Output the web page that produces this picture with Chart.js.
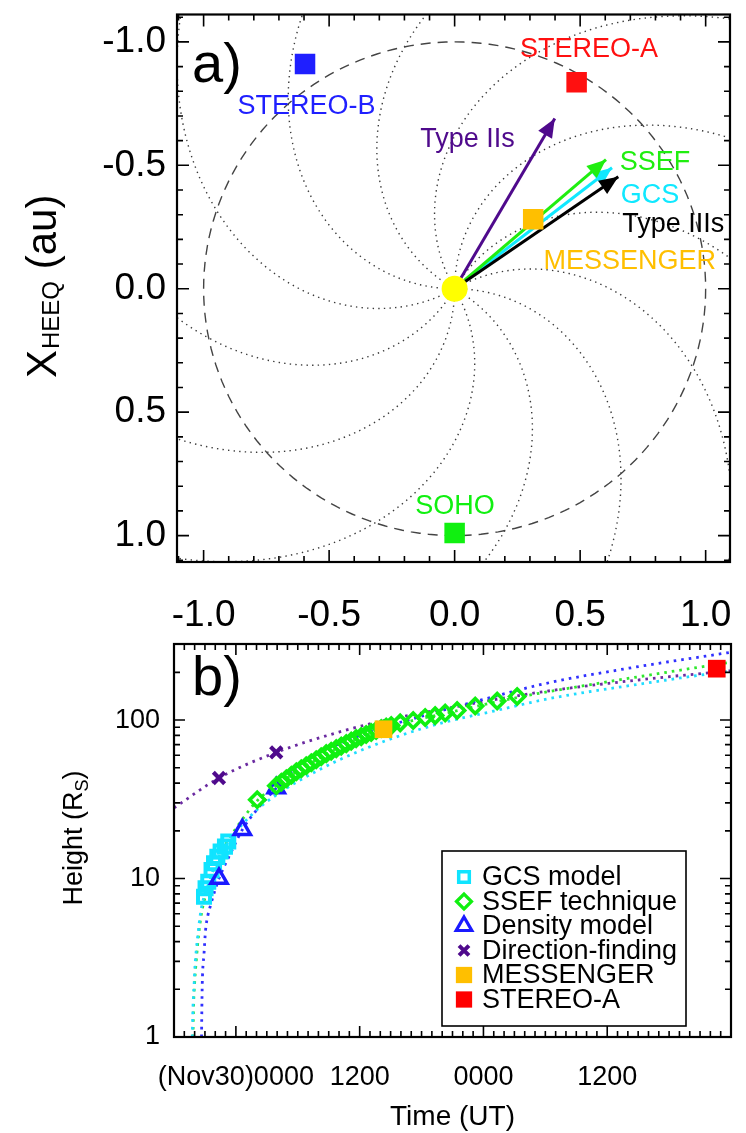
<!DOCTYPE html>
<html>
<head>
<meta charset="utf-8">
<script src="https://cdn.jsdelivr.net/npm/chart.js@4.4.1/dist/chart.umd.min.js"></script>
<style>
  html, body { margin: 0; padding: 0; background: #fff; }
  #wrap { position: relative; width: 746px; height: 1133px; overflow: hidden; background: #fff; }
  #panelA { position: absolute; left: 0; top: 0; }
  #panelB { position: absolute; left: 0; top: 630px; }
</style>
</head>
<body>
<div id="wrap">
  <canvas id="panelA" width="746" height="630"></canvas>
  <canvas id="panelB" width="746" height="503"></canvas>
</div>
<script>
// ---------- panel a : positions in the HEEQ plane (au) ----------
// horizontal = Y_HEEQ, vertical = X_HEEQ (1 au at the bottom)
const craftNames  = ['STEREO-B', 'STEREO-A', 'MESSENGER', 'SOHO'];
const craftY      = [-0.596, 0.486, 0.313, 0.000];
const craftX      = [-0.910, -0.837, -0.282, 0.990];
const craftColors = ['#1f1fff', '#ff1010', '#ffbf00', '#10f010'];

const arrowNames  = ['Type IIs', 'GCS', 'SSEF', 'Type IIIs'];
const arrowTipY   = [0.399, 0.627, 0.603, 0.652];
const arrowTipX   = [-0.690, -0.490, -0.523, -0.454];
const arrowColors = ['#4f0a8c', '#10e8ff', '#20ee10', '#000000'];

// Parker spirals, one every 30 deg, twist
const spiralStartAngles = [0, 30, 60, 90, 120, 150, 180, 210, 240, 270, 300, 330];
const spiralTwist = 48.5;   // deg per au
const orbitRadius = 1.0;    // au

const ticksA = [-1.0, -0.5, 0.0, 0.5, 1.0];

// ---------- panel b : height-time, hours from 2013 Nov 30 00:00 UT ----------
const gcsT  = [-3.09, -2.94, -2.68, -2.36, -2.12, -1.80, -1.48, -1.06, -0.74];
const gcsH  = [7.67, 8.67, 9.55, 11.3, 12.5, 13.7, 14.8, 15.9, 17.1];

const ssefT = [2.07, 3.92, 4.41, 4.89, 5.38, 5.86, 6.34, 6.82, 7.31, 7.79, 8.27, 8.76, 9.24, 9.73,
               10.21, 10.70, 11.18, 11.66, 12.15, 12.63, 13.12, 13.60, 14.09, 14.57, 15.06, 15.93,
               17.19, 18.35, 19.32, 20.29, 21.45, 23.20, 25.33, 27.27];
const ssefH = [31.4, 38.5, 40.5, 42.6, 44.9, 47.2, 49.3, 51.5, 53.8, 56.2, 58.7, 61.4, 63.6, 66.0,
               68.5, 71.0, 73.6, 76.4, 78.6, 81.0, 83.4, 85.9, 88.4, 90.3, 92.3, 96.0,
               99.3, 103.7, 106.7, 110.7, 114.8, 122.6, 131.9, 140.8];

const densT = [-1.64, 0.62, 3.91];
const densH = [10.0, 20.3, 37.2];

const dfT   = [-1.64, 3.91];
const dfH   = [43.1, 62.5];

const messT = [14.31];
const messH = [87.5];

const staT  = [46.62];
const staH  = [211];

// fitted curves
const gcsFitT  = [-4.23, -4.16, -4.06, -3.97, -3.84, -3.67, -3.48, -3.26, -3.0, -2.5, -2.0, -1.0, 0.5, 2.0, 4.0, 6.0, 10.0, 15.0, 20.0, 25.0, 30.5, 40.0, 48.0];
const gcsFitH  = [1.0, 1.54, 2.07, 2.77, 3.53, 4.5, 5.73, 6.97, 7.9, 9.9, 12.3, 16.0, 21.5, 27.0, 34.0, 41.0, 56.0, 76.0, 96.0, 114.0, 137.0, 172.0, 205.0];
const ssefFitT = [-4.16, -4.10, -4.00, -3.85, -3.60, -3.30, -2.90, -2.30, -1.20, 0.50, 2.07, 4.0, 8.0, 12.0, 16.0, 20.0, 27.3, 35.0, 48.0];
const ssefFitH = [1.0, 1.6, 2.2, 3.0, 4.5, 6.2, 8.0, 10.8, 15.5, 23.0, 31.0, 39.0, 57.0, 77.0, 95.0, 109.0, 139.0, 170.0, 232.0];
const densFitT = [-3.33, -3.30, -3.26, -3.09, -2.94, -2.71, -2.45, -2.12, -1.64, -0.50, 0.62, 2.0, 3.91, 6.1, 9.0, 13.2, 18.5, 24.0, 30.0, 38.0, 48.0];
const densFitH = [1.0, 1.5, 2.17, 3.36, 4.72, 5.88, 6.79, 8.07, 10.0, 14.5, 20.3, 27.0, 37.2, 52.0, 66.0, 85.0, 108.0, 135.0, 170.0, 212.0, 268.0];
const dfFitT   = [-6.0, -1.64, 3.91, 10.0, 14.0, 20.0, 29.5, 40.0, 48.0];
const dfFitH   = [27.9, 43.1, 62.5, 84.0, 98.0, 117.0, 150.0, 182.0, 205.0];

const timeTicks  = [0, 12, 24, 36];
const timeLabels = ['(Nov30)0000', '1200', '0000', '1200'];
const heightTicks = [1, 10, 100];

const FONT = "'Liberation Sans', Arial, Helvetica, sans-serif";
Chart.defaults.font.family = FONT;
Chart.defaults.color = '#000';

const zip = (xs, ys) => xs.map((v, i) => ({ x: v, y: ys[i] }));

// ---------------- panel a ----------------
function spiral(startDeg) {
  const pts = [];
  for (let r = 0; r <= 1.6; r += 0.01) {
    const th = (startDeg - spiralTwist * r) * Math.PI / 180;
    pts.push({ x: r * Math.cos(th), y: -r * Math.sin(th) });
  }
  return pts;
}
function orbit(rad) {
  const pts = [];
  for (let a = 0; a <= 360; a += 2) {
    pts.push({ x: rad * Math.cos(a * Math.PI / 180), y: rad * Math.sin(a * Math.PI / 180) });
  }
  return pts;
}

const datasetsA = [];
datasetsA.push({ data: [{ x: 0, y: 0 }], pointStyle: 'circle', pointRadius: 13,
  backgroundColor: '#ffff00', borderWidth: 0, order: 0 });
craftNames.forEach((n, i) => {
  datasetsA.push({ label: n, data: [{ x: craftY[i], y: craftX[i] }], pointStyle: 'rect',
    pointRadius: 14.5, backgroundColor: craftColors[i], borderWidth: 0, order: 1 });
});
arrowNames.forEach((n, i) => {
  datasetsA.push({ label: n, data: [{ x: 0, y: 0 }, { x: arrowTipY[i], y: arrowTipX[i] }],
    showLine: true, borderColor: arrowColors[i], borderWidth: 3, pointRadius: 0,
    arrowHead: true, order: 2 + (arrowNames.length - i) * 0.1 });
});
datasetsA.push({ data: orbit(orbitRadius), showLine: true, borderColor: '#444', borderWidth: 1.4,
  borderDash: [10, 7], pointRadius: 0, order: 3 });
spiralStartAngles.forEach(a => {
  datasetsA.push({ data: spiral(a), showLine: true, borderColor: '#3a3a3a', borderWidth: 1.4,
    borderDash: [1.4, 4.2], pointRadius: 0, order: 4 });
});

// label anchors in data coordinates (centre of the text, baseline)
const labelsA = [
  { text: craftNames[0], x: -0.590, y: -0.709, color: craftColors[0] },
  { text: craftNames[1], x: 0.535,  y: -0.938, color: craftColors[1] },
  { text: craftNames[2], x: 0.698,  y: -0.082, color: craftColors[2] },
  { text: craftNames[3], x: 0.001,  y: 0.912,  color: craftColors[3] },
  { text: arrowNames[0], x: 0.051,  y: -0.574, color: arrowColors[0] },
  { text: arrowNames[1], x: 0.778,  y: -0.348, color: arrowColors[1] },
  { text: arrowNames[2], x: 0.798,  y: -0.481, color: arrowColors[2] },
  { text: arrowNames[3], x: 0.871,  y: -0.228, color: arrowColors[3] }
];

const arrowHeads = {
  id: 'arrowHeads',
  afterDatasetsDraw(chart) {
    const ctx = chart.ctx;
    chart.data.datasets.forEach((ds, i) => {
      if (!ds.arrowHead) return;
      const pts = chart.getDatasetMeta(i).data;
      const a = pts[0], b = pts[pts.length - 1];
      const ang = Math.atan2(b.y - a.y, b.x - a.x);
      const len = 19, half = 8;
      const bx = b.x - len * Math.cos(ang), by = b.y - len * Math.sin(ang);
      ctx.save();
      ctx.fillStyle = ds.borderColor;
      ctx.beginPath();
      ctx.moveTo(b.x, b.y);
      ctx.lineTo(bx + half * Math.sin(ang), by - half * Math.cos(ang));
      ctx.lineTo(bx - half * Math.sin(ang), by + half * Math.cos(ang));
      ctx.closePath();
      ctx.fill();
      ctx.restore();
    });
  }
};

const textA = {
  id: 'textA',
  afterDatasetsDraw(chart) {
    const { ctx, scales: { x, y } } = chart;
    ctx.save();
    ctx.textBaseline = 'alphabetic';
    ctx.font = '27px ' + FONT;
    ctx.textAlign = 'center';
    labelsA.forEach(l => {
      ctx.fillStyle = l.color;
      ctx.fillText(l.text, x.getPixelForValue(l.x), y.getPixelForValue(l.y));
    });
    ctx.fillStyle = '#000';
    ctx.textAlign = 'left';
    ctx.font = '56px ' + FONT;
    ctx.fillText('a)', 192, 82);
    // y title with subscript
    ctx.translate(56, 378);
    ctx.rotate(-Math.PI / 2);
    ctx.font = '42px ' + FONT;
    ctx.fillText('X', 0, 0);
    let w = ctx.measureText('X').width + 1;
    ctx.font = '24px ' + FONT;
    ctx.fillText('HEEQ', w, 3);
    w += ctx.measureText('HEEQ').width;
    ctx.font = '42px ' + FONT;
    ctx.fillText(' (au)', w, 0);
    ctx.restore();
  }
};

function frameAndTicks(chart, xVals, yVals, isMajorX, isMajorY, majLen, minLen) {
  const { ctx, chartArea: a, scales: { x, y } } = chart;
  ctx.save();
  ctx.strokeStyle = '#000';
  ctx.lineWidth = 1.6;
  ctx.beginPath();
  xVals.forEach(v => {
    const p = x.getPixelForValue(v);
    if (p < a.left + 1 || p > a.right - 1) return;
    const L = isMajorX(v) ? majLen : minLen;
    ctx.moveTo(p, a.bottom); ctx.lineTo(p, a.bottom - L);
    ctx.moveTo(p, a.top); ctx.lineTo(p, a.top + L);
  });
  yVals.forEach(v => {
    const p = y.getPixelForValue(v);
    if (p < a.top + 1 || p > a.bottom - 1) return;
    const L = isMajorY(v) ? majLen : minLen;
    ctx.moveTo(a.left, p); ctx.lineTo(a.left + L, p);
    ctx.moveTo(a.right, p); ctx.lineTo(a.right - L, p);
  });
  ctx.stroke();
  ctx.lineWidth = 2.2;
  ctx.strokeRect(a.left, a.top, a.right - a.left, a.bottom - a.top);
  ctx.restore();
}

const minorA = [];
for (let k = -11; k <= 11; k++) minorA.push(k / 10);
const isHalf = v => Math.abs(v * 2 - Math.round(v * 2)) < 1e-6;

const ticksPluginA = {
  id: 'ticksA',
  afterDraw(chart) { frameAndTicks(chart, minorA, minorA, isHalf, isHalf, 12, 6); }
};

function fixedAxis(size, horizontal) {
  return s => {
    if (horizontal) s.height = size; else s.width = size;
    s.paddingTop = 0; s.paddingBottom = 0; s.paddingLeft = 0; s.paddingRight = 0;
  };
}

new Chart(document.getElementById('panelA'), {
  type: 'scatter',
  data: { datasets: datasetsA },
  options: {
    responsive: false, animation: false, devicePixelRatio: 1, events: [],
    layout: { padding: { left: 0, right: 16, top: 5, bottom: 0 } },
    plugins: { legend: { display: false }, tooltip: { enabled: false } },
    scales: {
      x: {
        type: 'linear', position: 'bottom', min: -1.106, max: 1.097,
        afterBuildTicks: s => { s.ticks = ticksA.map(v => ({ value: v })); },
        afterFit: fixedAxis(68, true),
        grid: { display: false, drawTicks: false }, border: { display: false },
        ticks: { font: { size: 37 }, color: '#000', padding: 32, maxRotation: 0, autoSkip: false,
                 callback: v => v.toFixed(1) }
      },
      y: {
        type: 'linear', position: 'left', min: -1.111, max: 1.107, reverse: true,
        afterBuildTicks: s => { s.ticks = ticksA.map(v => ({ value: v })); },
        afterFit: fixedAxis(177, false),
        grid: { display: false, drawTicks: false }, border: { display: false },
        ticks: { font: { size: 37 }, color: '#000', padding: 11, autoSkip: false,
                 callback: v => v.toFixed(1) }
      }
    }
  },
  plugins: [arrowHeads, textA, ticksPluginA]
});

// ---------------- panel b ----------------
const fitLine = (t, h, color) => ({
  type: 'line', data: zip(t, h), borderColor: color, borderWidth: 2.8, borderDash: [2.6, 5],
  pointRadius: 0, cubicInterpolationMode: 'monotone', fill: false, order: 10
});

const datasetsB = [
  fitLine(gcsFitT, gcsFitH, '#20dcff'),
  fitLine(ssefFitT, ssefFitH, '#2ee82e'),
  fitLine(densFitT, densFitH, '#3030ff'),
  fitLine(dfFitT, dfFitH, '#6a2aa0'),
  { label: 'GCS model', data: zip(gcsT, gcsH), pointStyle: 'rect', pointRadius: 8.5,
    backgroundColor: 'rgba(0,0,0,0)', borderColor: '#10e4ff', borderWidth: 4, order: 3 },
  { label: 'SSEF technique', data: zip(ssefT, ssefH), pointStyle: 'rectRot', pointRadius: 7.5,
    backgroundColor: 'rgba(0,0,0,0)', borderColor: '#10f010', borderWidth: 3.6, order: 2 },
  { label: 'Density model', data: zip(densT, densH), pointStyle: 'triangle', pointRadius: 9.5,
    backgroundColor: 'rgba(0,0,0,0)', borderColor: '#1a1aff', borderWidth: 3.4, order: 2 },
  { label: 'Direction-finding', data: zip(dfT, dfH), pointStyle: 'crossRot', pointRadius: 8,
    backgroundColor: 'rgba(0,0,0,0)', borderColor: '#4f0a8c', borderWidth: 4.2, order: 2 },
  { label: 'MESSENGER', data: zip(messT, messH), pointStyle: 'rect', pointRadius: 12.5,
    backgroundColor: '#ffbf00', borderWidth: 0, order: 1 },
  { label: 'STEREO-A', data: zip(staT, staH), pointStyle: 'rect', pointRadius: 12.5,
    backgroundColor: '#ff0000', borderWidth: 0, order: 1 }
];

const legendRowsB = [
  { ds: 4, radius: 7.5, lw: 3.5 },
  { ds: 5, radius: 7.5, lw: 3.2 },
  { ds: 6, radius: 9, lw: 3.2 },
  { ds: 7, radius: 7, lw: 4 },
  { ds: 8, radius: 11.5, lw: 0 },
  { ds: 9, radius: 11.5, lw: 0 }
];

const textB = {
  id: 'textB',
  afterDraw(chart) {
    const ctx = chart.ctx;
    ctx.save();
    // legend box
    ctx.strokeStyle = '#000';
    ctx.lineWidth = 1.6;
    ctx.strokeRect(442, 221, 244, 175);
    legendRowsB.forEach((r, i) => {
      const ds = chart.data.datasets[r.ds];
      const yy = 247 + i * 24.5;
      ctx.fillStyle = ds.backgroundColor;
      ctx.strokeStyle = ds.borderColor || ds.backgroundColor;
      ctx.lineWidth = r.lw;
      Chart.helpers.drawPoint(ctx, { pointStyle: ds.pointStyle, radius: r.radius, rotation: 0,
        borderWidth: r.lw }, 464, yy);
      ctx.fillStyle = '#000';
      ctx.font = '27px ' + FONT;
      ctx.textAlign = 'left';
      ctx.textBaseline = 'middle';
      ctx.fillText(ds.label, 482, yy + 1);
    });
    ctx.fillStyle = '#000';
    ctx.textBaseline = 'alphabetic';
    ctx.font = '56px ' + FONT;
    ctx.fillText('b)', 192, 65);
    // y title with subscript
    ctx.font = '27px ' + FONT;
    const w1 = ctx.measureText('Height (R').width;
    const w3 = ctx.measureText(')').width;
    ctx.font = '18px ' + FONT;
    const w2 = ctx.measureText('S').width;
    const total = w1 + w2 + w3;
    ctx.translate(82, 208 + total / 2);
    ctx.rotate(-Math.PI / 2);
    ctx.font = '27px ' + FONT;
    ctx.fillText('Height (R', 0, 0);
    ctx.font = '18px ' + FONT;
    ctx.fillText('S', w1, 6);
    ctx.font = '27px ' + FONT;
    ctx.fillText(')', w1 + w2, 0);
    ctx.restore();
  }
};

const hourTicks = [];
for (let h = -6; h <= 48; h++) hourTicks.push(h);
const logTicks = [];
[1, 10, 100].forEach(d => { for (let m = 1; m <= 9; m++) if (m * d <= 302) logTicks.push(m * d); });

const ticksPluginB = {
  id: 'ticksB',
  afterDraw(chart) {
    frameAndTicks(chart, hourTicks, logTicks, v => v % 12 === 0,
      v => heightTicks.includes(v), 11, 6);
  }
};

new Chart(document.getElementById('panelB'), {
  type: 'scatter',
  data: { datasets: datasetsB },
  options: {
    responsive: false, animation: false, devicePixelRatio: 1, events: [],
    layout: { padding: { left: 0, right: 15, top: 14, bottom: 0 } },
    plugins: { legend: { display: false }, tooltip: { enabled: false } },
    scales: {
      x: {
        type: 'linear', position: 'bottom', min: -6, max: 48,
        afterBuildTicks: s => { s.ticks = timeTicks.map(v => ({ value: v })); },
        afterFit: fixedAxis(96, true),
        grid: { display: false, drawTicks: false }, border: { display: false },
        ticks: { font: { size: 27 }, color: '#000', padding: 24, maxRotation: 0, autoSkip: false,
                 callback: v => timeLabels[timeTicks.indexOf(v)] },
        title: { display: true, text: 'Time (UT)', font: { size: 28, lineHeight: 1.1 },
                 color: '#000', padding: { top: 0, bottom: 0 } }
      },
      y: {
        type: 'logarithmic', position: 'left', min: 1, max: 302,
        afterBuildTicks: s => { s.ticks = heightTicks.map(v => ({ value: v })); },
        afterFit: fixedAxis(174, false),
        grid: { display: false, drawTicks: false }, border: { display: false },
        ticks: { font: { size: 27 }, color: '#000', padding: 14, autoSkip: false,
                 callback: v => String(v) }
      }
    }
  },
  plugins: [textB, ticksPluginB]
});
</script>
</body>
</html>
